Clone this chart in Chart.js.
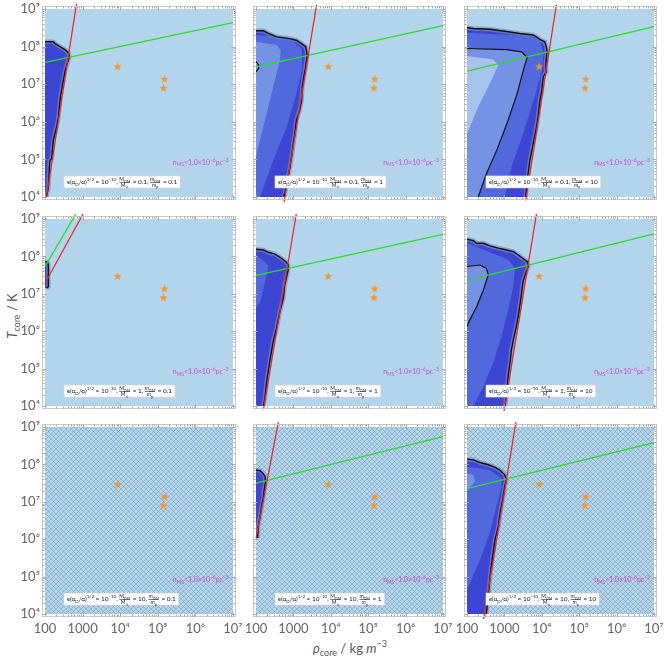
<!DOCTYPE html>
<html><head><meta charset="utf-8">
<script src="https://cdn.jsdelivr.net/npm/chart.js@4/dist/chart.umd.min.js"></script>
<style>
html,body{margin:0;padding:0;background:#fff;}
body{width:664px;height:662px;position:relative;overflow:hidden;font-family:Lato,"DejaVu Sans",sans-serif;}
canvas{position:absolute;}
.title{position:absolute;white-space:nowrap;color:#555;font-size:13px;line-height:13px;}
.title sub,.title sup{font-size:9px;line-height:0;}
</style></head><body>
<div class="title" style="left:12px;top:316px;transform:translate(-50%,-50%) rotate(-90deg);"><i>T</i><sub>core</sub> / K</div>
<div class="title" style="left:350px;top:648px;transform:translate(-50%,-50%);"><i>ρ</i><sub>core</sub> / kg <i>m</i><sup>−3</sup></div>
<script>
// ---------- data (log10 ρ, log10 T pairs where noted) ----------
const rhoTicks = [1e2, 1e3, 1e4, 1e5, 1e6, 1e7];
const rhoTickLabels = ['100', '1000', '10⁴', '10⁵', '10⁶', '10⁷'];
const tTicks = [1e4, 1e5, 1e6, 1e7, 1e8, 1e9];
const tTickLabels = ['10⁴', '10⁵', '10⁶', '10⁷', '10⁸', '10⁹'];
const massRatios = ['0.1', '1', '10'];      // M_DM / M_sun, by row
const particleRatios = ['0.1', '1', '10'];  // m_DM / m_p, by column
const starRho = [8500, 150000, 142000];
const starT = [2.9e7, 1.35e7, 7.8e6];

// contour regions, [log10 rho, log10 T]
const outer11 = [[2,8.13],[2.22,8.13],[2.27,8.08],[2.40,8.0],[2.53,7.92],[2.62,7.84],[2.65,7.73],[2.58,7.51],[2.53,7.33],[2.49,7.11],[2.44,6.84],[2.40,6.57],[2.36,6.13],[2.31,5.86],[2.22,5.51],[2.18,5.02],[2.13,4.97],[2.09,4.26],[2.04,4.0],[2,4]];
const outer12 = [[2,8.42],[2.20,8.42],[2.33,8.35],[2.55,8.26],[2.86,8.22],[3.08,8.17],[3.22,8.08],[3.33,8.0],[3.37,7.77],[3.33,7.46],[3.28,7.20],[3.24,6.93],[3.22,6.57],[3.17,6.31],[3.08,6.04],[3.04,5.68],[3.0,5.42],[2.95,5.06],[2.91,4.80],[2.84,4.44],[2.77,4.08],[2.75,4.0],[2,4]];
const mid12 = [[2,8.31],[2.37,8.28],[3.0,8.13],[3.22,7.95],[3.24,7.46],[3.08,6.75],[2.82,5.86],[2.46,4.97],[2.20,4.26],[2.11,4.0],[2,4]];
const light12 = [[2,8.13],[2.55,8.04],[2.66,7.91],[2.64,7.64],[2.46,6.93],[2.24,6.04],[2.06,5.33],[2,5.06]];
const contour12 = [[2,7.6],[2.07,7.51],[2.07,7.42],[2,7.33]];
const outer13 = [[2,8.51],[2.17,8.48],[2.61,8.46],[3.06,8.40],[3.41,8.35],[3.77,8.31],[3.95,8.19],[4.08,8.13],[4.12,8.0],[4.14,7.86],[4.11,7.55],[4.12,7.33],[4.04,7.20],[3.99,6.75],[3.95,6.57],[3.90,6.13],[3.86,5.86],[3.77,5.42],[3.68,4.97],[3.61,4.44],[3.57,4.0],[2,4]];
const mid13 = [[2,8.37],[3.68,8.28],[3.95,8.13],[4.05,7.82],[3.99,7.33],[3.81,6.66],[3.50,5.68],[3.19,4.80],[3.01,4.0],[2,4]];
const light13 = [[2,7.95],[3.06,7.92],[3.46,7.86],[3.61,7.71],[3.52,7.42],[3.34,6.75],[3.10,6.04],[2.81,5.28],[2.52,4.62],[2.30,4.0],[2,4]];
const lightest13 = [[2,7.75],[2.70,7.66],[2.84,7.51],[2.61,7.02],[2.30,6.40],[2,5.68]];
const contour13 = [[2,7.95],[3.06,7.92],[3.46,7.86],[3.61,7.71],[3.52,7.42],[3.34,6.75],[3.10,6.04],[2.81,5.28],[2.52,4.62],[2.30,4.0]];
const outer21 = [[2,7.86],[2.07,7.84],[2.09,7.77],[2.09,7.19],[2.04,7.15],[2,7.15]];
const outer22 = [[2,8.19],[2.20,8.17],[2.33,8.11],[2.51,8.06],[2.68,7.95],[2.82,7.84],[2.86,7.77],[2.86,7.64],[2.82,7.46],[2.77,7.24],[2.73,6.88],[2.64,6.53],[2.55,6.08],[2.46,5.73],[2.37,5.20],[2.30,4.75],[2.24,4.22],[2.20,4.0],[2,4]];
const mid22 = [[2,8.04],[2.28,7.82],[2.33,7.73],[2.24,7.33],[2.11,6.79],[2,6.62]];
const outer23 = [[2,8.46],[2.17,8.42],[2.26,8.35],[2.44,8.35],[2.61,8.28],[2.84,8.22],[3.06,8.17],[3.24,8.13],[3.41,8.01],[3.61,7.86],[3.64,7.73],[3.59,7.60],[3.50,7.33],[3.46,7.02],[3.41,6.66],[3.37,6.40],[3.32,6.13],[3.24,5.77],[3.19,5.51],[3.15,5.15],[3.10,4.80],[3.06,4.35],[3.02,4.0],[2,4]];
const mid23 = [[2,8.35],[2.70,8.08],[3.10,7.91],[3.28,7.68],[3.24,7.20],[3.10,6.57],[2.92,5.86],[2.70,5.15],[2.44,4.53],[2.17,4.0],[2,4]];
const light23 = [[2,7.73],[2.35,7.77],[2.52,7.68],[2.57,7.51],[2.44,7.11],[2.26,6.66],[2.08,6.31],[2,6.13]];
const contour23 = [[2,7.73],[2.35,7.77],[2.52,7.68],[2.57,7.51],[2.44,7.11],[2.26,6.66],[2.08,6.31],[2,6.13]];
const outer32 = [[2,7.85],[2.11,7.83],[2.20,7.74],[2.25,7.66],[2.25,7.50],[2.22,7.32],[2.20,7.14],[2.15,6.87],[2.11,6.61],[2.06,6.34],[2.04,6.03],[2,6.03]];
const outer33 = [[2,8.14],[2.17,8.12],[2.35,8.05],[2.57,7.99],[2.75,7.92],[2.88,7.85],[3.01,7.72],[3.06,7.60],[3.01,7.41],[2.97,7.14],[2.92,6.88],[2.88,6.65],[2.84,6.34],[2.75,5.99],[2.70,5.63],[2.66,5.36],[2.61,4.92],[2.57,4.48],[2.52,4.03],[2.50,4.0],[2,4]];
const mid33 = [[2,7.94],[2.61,7.85],[2.92,7.63],[2.92,7.41],[2.79,6.88],[2.61,6.17],[2.35,5.45],[2.12,4.92],[2,4.66]];
const light33 = [[2,7.76],[2.17,7.72],[2.21,7.54],[2,7.28]];

// red and green lines, [log10 rho, log10 T] endpoints
const red11 = [[2.04,4.0],[2.84,9.15]], green11 = [[2,7.58],[7,8.64]];
const red12 = [[2.75,3.86],[3.62,9.11]], green12 = [[2,7.46],[7,8.56]];
const red13 = [[3.57,3.91],[4.39,9.11]], green13 = [[2,7.35],[7,8.53]];
const red21 = [[2.0,7.28],[3.02,9.15]], green21 = [[2,7.73],[2.83,9.15]];
const red22 = [[2.20,3.91],[3.08,9.15]], green22 = [[2,7.49],[7,8.59]];
const red23 = [[2.99,3.86],[3.86,9.15]], green23 = [[2,7.36],[7,8.6]];
const red32 = [[2.0,6.03],[2.60,9.14]], green32 = [[2,7.50],[7,8.74]];
const red33 = [[2.44,3.85],[3.31,9.14]], green33 = [[2,7.35],[7,8.58]];

const panels = [
  {layers:[outer11], contours:[], red:red11, green:green11},
  {layers:[outer12, mid12, light12], contours:[contour12], red:red12, green:green12},
  {layers:[outer13, mid13, light13, lightest13], contours:[contour13], red:red13, green:green13},
  {layers:[outer21], contours:[], red:red21, green:green21},
  {layers:[outer22, mid22], contours:[], red:red22, green:green22},
  {layers:[outer23, mid23, light23], contours:[contour23], red:red23, green:green23},
  {layers:[], contours:[], red:null, green:null},
  {layers:[outer32], contours:[], red:red32, green:green32},
  {layers:[outer33, mid33, light33], contours:[], red:red33, green:green33}
];

// ---------- styling ----------
const FONT = 'Lato, "DejaVu Sans", sans-serif';
const BG = '#b2d5ec';
const PALETTE = ['#3d46d3', '#5169dc', '#7593e4', '#a6c3ee'];
const colLeft = [45, 256, 467], colW = [188, 187, 187];
const rowTop = [9, 219, 427], rowH = [188, 187, 187];

function toXY(pts) { return pts.map(p => ({x: Math.pow(10, p[0]), y: Math.pow(10, p[1])})); }

function makeStar(r, color) {
  const s = Math.ceil(r * 2) + 2;
  const c = document.createElement('canvas'); c.width = c.height = s;
  const g = c.getContext('2d'); g.fillStyle = color; g.beginPath();
  for (let i = 0; i < 10; i++) {
    const a = -Math.PI / 2 + i * Math.PI / 5; const rr = i % 2 ? r * 0.42 : r;
    g.lineTo(s / 2 + rr * Math.cos(a), s / 2 + rr * Math.sin(a));
  }
  g.closePath(); g.fill(); return c;
}
const starImg = makeStar(4.3, '#f2962c');

const hatchTile = (() => {
  const c = document.createElement('canvas'); c.width = c.height = 5;
  const g = c.getContext('2d'); g.strokeStyle = 'rgba(60,85,125,0.33)'; g.lineWidth = 0.75;
  g.beginPath(); g.moveTo(-1, -1); g.lineTo(6, 6); g.moveTo(6, -1); g.lineTo(-1, 6); g.stroke();
  return c;
})();

// rich text helpers
function segFont(k, base) { return (k === 'n' ? base : base * 0.7) + 'px ' + FONT; }
function segDy(k, base) { return k === 'sup' ? -base * 0.4 : (k === 'sub' ? base * 0.25 : 0); }
function runWidth(ctx, segs, base) { let w = 0; for (const s of segs) { ctx.font = segFont(s.k, base); w += ctx.measureText(s.t).width; } return w; }
function drawRun(ctx, segs, x, y, base) { for (const s of segs) { ctx.font = segFont(s.k, base); ctx.fillText(s.t, x, y + segDy(s.k, base)); x += ctx.measureText(s.t).width; } return x; }
function richWidth(ctx, parts, base) {
  let w = 0;
  for (const p of parts) {
    if (p.num) w += Math.max(runWidth(ctx, p.num, base * 0.8), runWidth(ctx, p.den, base * 0.8)) + 1;
    else w += runWidth(ctx, [p], base);
  }
  return w;
}
function drawRich(ctx, parts, x, y, base) {
  for (const p of parts) {
    if (p.num) {
      const fb = base * 0.8, wn = runWidth(ctx, p.num, fb), wd = runWidth(ctx, p.den, fb), w = Math.max(wn, wd);
      drawRun(ctx, p.num, x + (w - wn) / 2, y - base * 0.42, fb);
      drawRun(ctx, p.den, x + (w - wd) / 2, y + base * 0.5, fb);
      ctx.fillRect(x, y - base * 0.3, w, 0.6);
      x += w + 1;
    } else x = drawRun(ctx, [p], x, y, base);
  }
}
function annotationParts(r, c) {
  return [
    {t: 'ϵ(α', k: 'n'}, {t: 'D', k: 'sub'}, {t: '/α)', k: 'n'}, {t: '1/2', k: 'sup'}, {t: ' = 10', k: 'n'}, {t: '−10', k: 'sup'}, {t: ', ', k: 'n'},
    {num: [{t: 'M', k: 'n'}, {t: 'DM', k: 'sub'}], den: [{t: 'M', k: 'n'}, {t: '⊙', k: 'sub'}]},
    {t: ' = ' + massRatios[r] + ', ', k: 'n'},
    {num: [{t: 'm', k: 'n'}, {t: 'DM', k: 'sub'}], den: [{t: 'm', k: 'n'}, {t: 'p', k: 'sub'}]},
    {t: ' = ' + particleRatios[c], k: 'n'}
  ];
}
const nmsParts = [{t: 'n', k: 'n'}, {t: 'MS', k: 'sub'}, {t: '<1.0×10', k: 'n'}, {t: '−6', k: 'sup'}, {t: 'pc', k: 'n'}, {t: '−3', k: 'sup'}];

const decor = {
  id: 'decor',
  beforeDatasetsDraw(chart) {
    const {ctx, chartArea: a} = chart; const o = chart.options.plugins.decor;
    ctx.save();
    ctx.fillStyle = BG; ctx.fillRect(a.left, a.top, a.right - a.left, a.bottom - a.top);
    if (o.hatch) { ctx.fillStyle = ctx.createPattern(hatchTile, 'repeat'); ctx.fillRect(a.left, a.top, a.right - a.left, a.bottom - a.top); }
    ctx.restore();
  },
  afterDatasetsDraw(chart) {
    const {ctx, chartArea: a, scales} = chart; const o = chart.options.plugins.decor;
    const xs = scales.x, ys = scales.y;
    const x0 = a.left - 2.5, x1 = a.right + 2.5, y0 = a.top - 2.5, y1 = a.bottom + 2.5;
    ctx.save();
    ctx.strokeStyle = '#c9c9c9'; ctx.lineWidth = 1;
    ctx.strokeRect(x0, y0, x1 - x0, y1 - y0);
    ctx.strokeStyle = '#aaaaaa'; ctx.beginPath();
    for (let k = 2; k <= 7; k++) for (let m = 1; m <= 9; m++) {
      const v = m * Math.pow(10, k); if (v > 1e7) break;
      const px = Math.round(xs.getPixelForValue(v)) + 0.5; const len = m === 1 ? 4 : 2;
      ctx.moveTo(px, y1); ctx.lineTo(px, y1 - len); ctx.moveTo(px, y0); ctx.lineTo(px, y0 + len);
    }
    for (let k = 4; k <= 9; k++) for (let m = 1; m <= 9; m++) {
      const v = m * Math.pow(10, k); if (v > 1e9) break;
      const py = Math.round(ys.getPixelForValue(v)) + 0.5; const len = m === 1 ? 4 : 2;
      ctx.moveTo(x0, py); ctx.lineTo(x0 + len, py); ctx.moveTo(x1, py); ctx.lineTo(x1 - len, py);
    }
    ctx.stroke();
    // magenta label
    const w = a.right - a.left, h = a.bottom - a.top;
    ctx.fillStyle = '#d046dc'; ctx.textBaseline = 'alphabetic'; ctx.textAlign = 'left';
    drawRich(ctx, nmsParts, a.left + 0.68 * w, a.top + 0.815 * h + 2.5, 7);
    // annotation box
    const parts = annotationParts(o.r, o.c); const base = 6.4;
    const tw = richWidth(ctx, parts, base);
    const bx = a.left + 19, by = a.top + 0.888 * h;
    ctx.fillStyle = '#ffffff'; ctx.fillRect(bx, by, tw + 6, 12);
    ctx.strokeStyle = '#d8d8d8'; ctx.lineWidth = 0.6; ctx.strokeRect(bx, by, tw + 6, 12);
    ctx.fillStyle = '#222';
    drawRich(ctx, parts, bx + 3, by + 8, base);
    ctx.restore();
  }
};

for (let r = 0; r < 3; r++) for (let c = 0; c < 3; c++) {
  const P = panels[r * 3 + c];
  const cv = document.createElement('canvas');
  const W = 44 + colW[c] + 14, H = 8 + rowH[r] + 26;
  cv.width = W; cv.height = H; cv.style.width = W + 'px'; cv.style.height = H + 'px';
  cv.style.left = (colLeft[c] - 44) + 'px'; cv.style.top = (rowTop[r] - 8) + 'px';
  document.body.appendChild(cv);

  const ds = [];
  P.layers.forEach((poly, i) => ds.push({data: toXY(poly), fill: 'shape', backgroundColor: PALETTE[i], borderColor: 'rgba(0,0,0,0)', borderWidth: 0, pointRadius: 0, order: 100 - i}));
  if (P.layers.length) {
    const outline = P.layers[0].slice(0, -1);
    ds.push({data: toXY(outline), fill: false, borderColor: 'rgba(120,140,195,0.65)', borderWidth: 4.5, pointRadius: 0, order: 50});
    ds.push({data: toXY(outline), fill: false, borderColor: '#111', borderWidth: 1.4, pointRadius: 0, order: 49});
  }
  P.contours.forEach(cn => ds.push({data: toXY(cn), fill: false, borderColor: '#111', borderWidth: 1.2, pointRadius: 0, order: 48}));
  if (P.green) ds.push({data: toXY(P.green), fill: false, borderColor: '#2bdc2b', borderWidth: 1.3, pointRadius: 0, clip: 5, order: 11});
  if (P.red) ds.push({data: toXY(P.red), fill: false, borderColor: '#e8231f', borderWidth: 1.2, pointRadius: 0, clip: 5, order: 10});
  ds.push({data: starRho.map((x, i) => ({x, y: starT[i]})), showLine: false, fill: false, pointStyle: starImg, pointRadius: 5, order: 0});

  new Chart(cv, {
    type: 'line',
    data: {datasets: ds},
    plugins: [decor],
    options: {
      responsive: false, animation: false, devicePixelRatio: 1, events: [],
      layout: {padding: {left: 0, right: 14, top: 8, bottom: 0}},
      elements: {line: {tension: 0}},
      plugins: {legend: {display: false}, tooltip: {enabled: false}, decor: {hatch: r === 2, r, c}},
      scales: {
        x: {
          type: 'logarithmic', min: 1e2, max: 1e7,
          grid: {display: false, drawTicks: false}, border: {display: false},
          afterBuildTicks: s => { s.ticks = rhoTicks.map(v => ({value: v})); },
          afterFit: s => { s.height = 26; s.paddingLeft = 0; s.paddingRight = 0; },
          ticks: {display: r === 2, autoSkip: false, maxRotation: 0, padding: 7, color: '#666',
                  font: {family: FONT, size: 13}, callback: (v, i) => rhoTickLabels[i]}
        },
        y: {
          type: 'logarithmic', min: 1e4, max: 1e9,
          grid: {display: false, drawTicks: false}, border: {display: false},
          afterBuildTicks: s => { s.ticks = tTicks.map(v => ({value: v})); },
          afterFit: s => { s.width = 44; s.paddingTop = 0; s.paddingBottom = 0; },
          ticks: {display: c === 0, autoSkip: false, padding: 5, color: '#666',
                  font: {family: FONT, size: 13}, callback: (v, i) => tTickLabels[i]}
        }
      }
    }
  });
}
</script>
</body></html>
